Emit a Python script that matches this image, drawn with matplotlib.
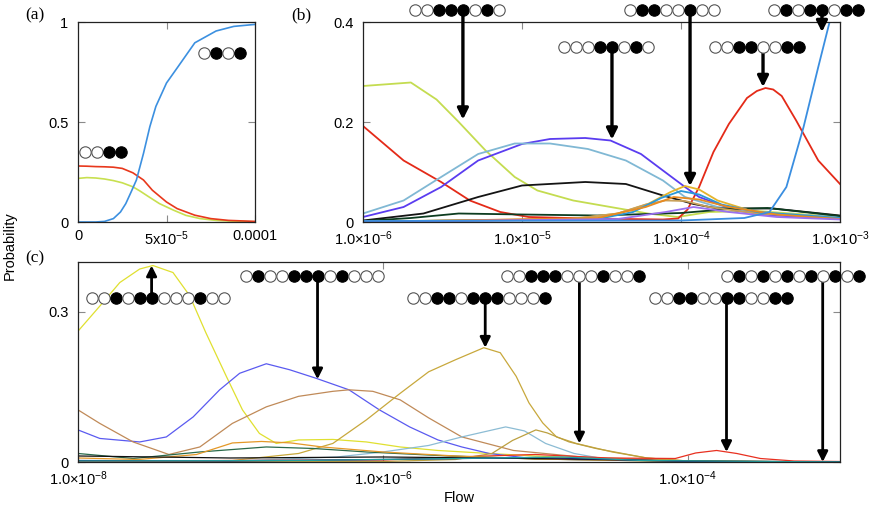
import matplotlib
matplotlib.use('Agg')
import matplotlib.pyplot as plt
from matplotlib.lines import Line2D
from matplotlib.ticker import FixedLocator, FixedFormatter, NullLocator

plt.rcParams['font.family'] = ['Liberation Sans', 'DejaVu Sans']
plt.rcParams['mathtext.fontset'] = 'custom'
plt.rcParams['mathtext.rm'] = 'Liberation Sans'
plt.rcParams['mathtext.it'] = 'Liberation Sans:italic'
plt.rcParams['mathtext.default'] = 'rm'

# ---------------- data: panel (a), linear flow ----------------
a_blue_x = [0, 1.0e-5, 1.5e-5, 2.0e-5, 2.4e-5, 2.7e-5, 3.0e-5, 3.3e-5, 3.7e-5, 4.06e-5, 4.4e-5, 5.0e-5,
            5.6e-5, 6.6e-5, 7.8e-5, 8.8e-5, 1.0e-4]
a_blue_y = [0, 0, 0.003, 0.017, 0.05, 0.092, 0.15, 0.21, 0.343, 0.477, 0.578, 0.695, 0.77, 0.896, 0.955,
            0.978, 0.988]
a_red_x = [0, 0.5e-5, 1e-5, 1.5e-5, 2e-5, 2.5e-5, 3.1e-5, 3.7e-5, 4.2e-5, 5e-5, 5.6e-5, 6.6e-5, 7.5e-5,
           8.5e-5, 1e-4]
a_red_y = [0.28, 0.279, 0.277, 0.276, 0.274, 0.268, 0.246, 0.21, 0.159, 0.1, 0.067, 0.034, 0.017, 0.008, 0.003]
a_yg_x = [0, 0.5e-5, 1e-5, 1.5e-5, 2e-5, 2.5e-5, 3.1e-5, 3.5e-5, 4.0e-5, 4.6e-5, 5.4e-5, 6.1e-5, 6.9e-5,
          7.8e-5, 9e-5, 1e-4]
a_yg_y = [0.218, 0.222, 0.22, 0.215, 0.207, 0.196, 0.176, 0.155, 0.126, 0.092, 0.059, 0.033, 0.017, 0.008,
          0.003, 0.001]
a_xticks = [0, 5e-5, 1e-4]
a_xticklabels = ['0', '5x10$^{-5}$', '0.0001']
a_yticks = [0, 0.5, 1]
a_yticklabels = ['0', '0.5', '1']
a_patterns = ['0101', '0011']

# ---------------- data: panel (b), log flow ----------------
b_series = {
    'yellowgreen': ([1e-6, 2e-6, 2.9e-6, 4e-6, 5.9e-6, 9e-6, 1.25e-5, 2.1e-5, 3.6e-5, 6.2e-5, 9.5e-5, 1.5e-4,
                     3e-4, 1e-3],
                    [0.272, 0.279, 0.245, 0.2, 0.143, 0.09, 0.063, 0.043, 0.03, 0.017, 0.01, 0.02, 0.022, 0.01]),
    'red': ([1e-6, 1.8e-6, 3.1e-6, 4.7e-6, 7.3e-6, 1.1e-5, 2.6e-5, 7.7e-5, 9.6e-5, 1.1e-4, 1.3e-4, 1.6e-4,
             2e-4, 2.6e-4, 3.0e-4, 3.4e-4, 3.8e-4, 4.3e-4, 5.3e-4, 7.3e-4, 1e-3],
            [0.192, 0.123, 0.08, 0.043, 0.02, 0.01, 0.007, 0.005, 0.007, 0.025, 0.07, 0.14, 0.196, 0.248,
             0.262, 0.268, 0.265, 0.252, 0.203, 0.123, 0.076]),
    'purple': ([1e-6, 1.8e-6, 3.1e-6, 5.3e-6, 1e-5, 1.5e-5, 2.5e-5, 3.6e-5, 5.6e-5, 7.7e-5, 1.06e-4, 1.3e-4,
                2.2e-4, 3.8e-4, 1e-3],
               [0.01, 0.03, 0.07, 0.123, 0.156, 0.166, 0.168, 0.163, 0.136, 0.103, 0.07, 0.05, 0.023, 0.013,
                0.007]),
    'lightblue': ([1e-6, 1.8e-6, 3.1e-6, 5.3e-6, 9e-6, 1.5e-5, 2.6e-5, 4.5e-5, 7.7e-5, 1.06e-4, 1.7e-4,
                   3.8e-4, 1e-3],
                  [0.017, 0.043, 0.09, 0.136, 0.157, 0.157, 0.146, 0.123, 0.083, 0.05, 0.03, 0.017, 0.01]),
    'black': ([1e-6, 2.4e-6, 5.3e-6, 1e-5, 2.5e-5, 4.5e-5, 7.7e-5, 1.2e-4, 1.7e-4, 3.8e-4, 1e-3],
              [0.003, 0.017, 0.05, 0.073, 0.08, 0.076, 0.053, 0.036, 0.027, 0.027, 0.013]),
    'darkgreen': ([1e-6, 2e-6, 4e-6, 1e-5, 3e-5, 1e-4, 2e-4, 3.5e-4, 1e-3],
                  [0.002, 0.008, 0.017, 0.015, 0.013, 0.018, 0.026, 0.028, 0.012]),
    'gold': ([1e-6, 2e-5, 4e-5, 6.2e-5, 8.6e-5, 1.06e-4, 1.3e-4, 1.7e-4, 2.9e-4, 1e-3],
             [0.001, 0.005, 0.017, 0.036, 0.06, 0.072, 0.065, 0.043, 0.02, 0.007]),
    'tan': ([1e-6, 2e-5, 4e-5, 6e-5, 8e-5, 1.06e-4, 1.5e-4, 3e-4, 1e-3],
            [0.001, 0.006, 0.017, 0.035, 0.043, 0.042, 0.03, 0.017, 0.008]),
    'cyan': ([1e-6, 3e-5, 5e-5, 7.5e-5, 1e-4, 1.3e-4, 1.8e-4, 3e-4, 1e-3],
             [0.001, 0.006, 0.02, 0.048, 0.062, 0.055, 0.035, 0.02, 0.008]),
    'orange': ([1e-6, 3e-5, 6e-5, 9e-5, 1.3e-4, 2e-4, 4e-4, 1e-3],
               [0.0, 0.008, 0.03, 0.05, 0.045, 0.03, 0.015, 0.006]),
    'violet': ([1e-6, 4e-5, 8e-5, 1.2e-4, 2e-4, 4e-4, 1e-3],
               [0.0, 0.006, 0.02, 0.03, 0.02, 0.01, 0.005]),
    'blue': ([1e-6, 1e-4, 2.5e-4, 3.6e-4, 4.6e-4, 5.9e-4, 7.3e-4, 8.6e-4, 9.5e-4],
             [0.002, 0.003, 0.008, 0.02, 0.07, 0.19, 0.31, 0.4, 0.46]),
}
b_colors = {'yellowgreen': '#c4dc50', 'red': '#e42a18', 'purple': '#5a3cf0', 'lightblue': '#80b8d4',
            'black': '#141414', 'darkgreen': '#0c3c20', 'gold': '#e4b42c', 'tan': '#c8a05a',
            'cyan': '#2a98d8', 'orange': '#e88a20', 'violet': '#9a70f0', 'blue': '#3a8ee0'}
b_xticks = [1e-6, 1e-5, 1e-4, 1e-3]
b_xticklabels = ['1.0×10$^{-6}$', '1.0×10$^{-5}$', '1.0×10$^{-4}$', '1.0×10$^{-3}$']
b_yticks = [0, 0.2, 0.4]
b_yticklabels = ['0', '0.2', '0.4']
b_patterns = ['00111010', '00011010', '01100100', '00110011', '01011011']
b_arrow_x = [4.25e-6, 3.68e-5, 1.14e-4, 3.28e-4, 7.7e-4]
b_arrow_y = [0.205, 0.165, 0.072, 0.27, 0.38]
b_anchor = [4, 4, 5, 4, 4]
b_row = [1.06, 0.875, 1.06, 0.875, 1.06]

# ---------------- data: panel (c), log flow ----------------
c_series = {
    'yellow': ([1e-8, 1.39e-8, 1.88e-8, 2.54e-8, 3.1e-8, 4.2e-8, 5.4e-8, 6.9e-8, 9.4e-8, 1.2e-7, 1.55e-7,
                2e-7, 2.8e-7, 4.7e-7, 7.8e-7, 1.3e-6, 2.3e-6, 5e-6, 1e-5, 3e-5, 1e-4, 1e-3],
               [0.261, 0.311, 0.358, 0.385, 0.392, 0.378, 0.332, 0.258, 0.171, 0.104, 0.057, 0.037, 0.044,
                0.045, 0.04, 0.03, 0.023, 0.017, 0.012, 0.005, 0.001, 0.0]),
    'blue': ([1e-8, 1.39e-8, 2.54e-8, 3.8e-8, 5.7e-8, 8.5e-8, 1.15e-7, 1.72e-7, 2.45e-7, 3.65e-7, 6e-7,
              9.5e-7, 1.5e-6, 2.3e-6, 3.3e-6, 5e-6, 1e-5, 1e-4, 1e-3],
             [0.064, 0.047, 0.04, 0.05, 0.09, 0.144, 0.177, 0.196, 0.184, 0.167, 0.144, 0.104, 0.07, 0.044,
              0.03, 0.017, 0.006, 0.002, 0.0]),
    'brown': ([1e-8, 1.39e-8, 2.3e-8, 3.95e-8, 6.3e-8, 1.03e-7, 1.72e-7, 2.8e-7, 4.7e-7, 6e-7, 8.6e-7,
               1.3e-6, 2.0e-6, 3.3e-6, 7.2e-6, 2e-5, 1e-4, 1e-3],
              [0.104, 0.077, 0.04, 0.015, 0.03, 0.077, 0.11, 0.131, 0.141, 0.144, 0.141, 0.124, 0.088, 0.05,
               0.023, 0.01, 0.002, 0.0]),
    'gold': ([1e-8, 1.03e-7, 2.8e-7, 4.7e-7, 7.8e-7, 1.3e-6, 2.0e-6, 3.0e-6, 4.6e-6, 5.9e-6, 7.5e-6, 9.1e-6,
              1.12e-5, 1.38e-5, 1.86e-5, 3.2e-5, 5.4e-5, 1e-4, 1e-3],
             [0.0, 0.003, 0.017, 0.037, 0.084, 0.137, 0.18, 0.204, 0.228, 0.218, 0.171, 0.118, 0.078, 0.05,
              0.037, 0.02, 0.008, 0.002, 0.0]),
    'lightblue': ([1e-8, 1e-7, 5e-7, 1e-6, 2e-6, 3.3e-6, 6.4e-6, 8.5e-6, 1.17e-5, 1.8e-5, 3e-5, 1e-4, 1e-3],
                  [0.0, 0.002, 0.01, 0.02, 0.033, 0.05, 0.07, 0.062, 0.037, 0.017, 0.005, 0.001, 0.0]),
    'olive': ([1e-8, 1e-6, 3e-6, 5.2e-6, 7.1e-6, 1.01e-5, 1.2e-5, 1.67e-5, 2.5e-5, 5.4e-5, 1e-4, 1e-3],
              [0.0, 0.001, 0.005, 0.017, 0.043, 0.064, 0.058, 0.04, 0.027, 0.008, 0.002, 0.0]),
    'red': ([1e-8, 1e-6, 3e-6, 1e-5, 3e-5, 8.3e-5, 1.13e-4, 1.55e-4, 2.1e-4, 3e-4, 5e-4, 1e-3],
            [0.002, 0.004, 0.01, 0.015, 0.008, 0.007, 0.018, 0.023, 0.017, 0.007, 0.002, 0.001]),
    'darkgreen': ([1e-8, 2.3e-8, 6.3e-8, 1.72e-7, 3.5e-7, 7.8e-7, 2.3e-6, 1e-5, 1e-4, 1e-3],
                  [0.017, 0.007, 0.02, 0.03, 0.027, 0.02, 0.013, 0.006, 0.001, 0.0]),
    'orange': ([1e-8, 2.5e-8, 6e-8, 1.03e-7, 1.6e-7, 2.5e-7, 4e-7, 1e-6, 3e-6, 1e-5, 1e-4, 1e-3],
               [0.008, 0.005, 0.015, 0.038, 0.041, 0.038, 0.03, 0.02, 0.012, 0.006, 0.001, 0.0]),
    'black': ([1e-8, 1e-7, 1e-6, 1e-5, 1e-4, 1e-3], [0.012, 0.008, 0.01, 0.007, 0.002, 0.0]),
    'navy': ([1e-8, 1e-7, 2e-6, 1e-5, 3e-5, 1e-4, 1e-3], [0.003, 0.002, 0.006, 0.009, 0.005, 0.001, 0.0]),
    'teal': ([1e-8, 3e-7, 3e-6, 1.5e-5, 5e-5, 1e-3], [0.002, 0.003, 0.007, 0.01, 0.003, 0.0]),
}
c_colors = {'yellow': '#e0e030', 'blue': '#5a5af0', 'brown': '#c08a58', 'gold': '#c8a83c',
            'lightblue': '#8cbcd4', 'olive': '#bca040', 'red': '#e83020', 'darkgreen': '#2a6a4a',
            'orange': '#e49828', 'black': '#101010', 'navy': '#20206a', 'teal': '#20a0a0'}
c_xticks = [1e-8, 1e-6, 1e-4]
c_xticklabels = ['1.0×10$^{-8}$', '1.0×10$^{-6}$', '1.0×10$^{-4}$']
c_yticks = [0, 0.3]
c_yticklabels = ['0', '0.3']
c_patterns = ['001011000100', '010011101000', '001101110001', '001110001001', '001100110011',
              '010101010101']
c_arrow_x = [3.04e-8, 3.73e-7, 4.7e-6, 1.95e-5, 1.8e-4, 7.7e-4]
c_arrow_y = [0.392, 0.165, 0.228, 0.037, 0.02, 0.0]
c_anchor = [5, 6, 6, 6, 6, 8]
c_row = [0.82, 0.93, 0.82, 0.93, 0.82, 0.93]

# ---------------- figure ----------------
W, H = 872, 520
fig = plt.figure(figsize=(W / 100, H / 100), dpi=100)
axA = fig.add_axes([78 / W, 1 - 222 / H, 177 / W, 200 / H])
axB = fig.add_axes([363 / W, 1 - 222 / H, 477 / W, 200 / H])
axC = fig.add_axes([78 / W, 1 - 462 / H, 762 / W, 200.5 / H])


def style(ax, xt, xl, yt, yl):
    ax.xaxis.set_major_locator(FixedLocator(xt))
    ax.xaxis.set_major_formatter(FixedFormatter(xl))
    ax.xaxis.set_minor_locator(NullLocator())
    ax.yaxis.set_major_locator(FixedLocator(yt))
    ax.yaxis.set_major_formatter(FixedFormatter(yl))
    ax.yaxis.set_minor_locator(NullLocator())
    ax.tick_params(direction='in', length=5, width=0.8, color='#8a8a8a', top=True, right=True,
                   labelsize=10.5, pad=5)
    ax.tick_params(axis='y', pad=7)
    for s in ax.spines.values():
        s.set_linewidth(0.9)
        s.set_color('#222222')


# panel (a)
axA.plot(a_yg_x, a_yg_y, color='#c8e050', lw=1.2)
axA.plot(a_red_x, a_red_y, color='#e8381c', lw=1.2)
axA.plot(a_blue_x, a_blue_y, color='#3c90e0', lw=1.2)
axA.set_xlim(0, 1e-4)
axA.set_ylim(0, 1)
style(axA, a_xticks, a_xticklabels, a_yticks, a_yticklabels)

# panel (b)
for name, (xs, ys) in b_series.items():
    axB.plot(xs, ys, color=b_colors[name], lw=1.3)
axB.set_xscale('log')
axB.set_xlim(1e-6, 1e-3)
axB.set_ylim(0, 0.4)
style(axB, b_xticks, b_xticklabels, b_yticks, b_yticklabels)

# panel (c)
for name, (xs, ys) in c_series.items():
    axC.plot(xs, ys, color=c_colors[name], lw=0.9)
axC.set_xscale('log')
axC.set_xlim(1e-8, 1e-3)
axC.set_ylim(0, 0.4)
style(axC, c_xticks, c_xticklabels, c_yticks, c_yticklabels)

STEP = 12.0  # pixel spacing of balls


def draw_row(pattern, x_px, y_px, anchor):
    for i, ch in enumerate(pattern):
        x = x_px + (i - anchor) * STEP
        filled = ch == '1'
        fig.add_artist(Line2D([x / W], [y_px / H], transform=fig.transFigure, marker='o', ms=8.2,
                              mfc='black' if filled else 'white', mec='black' if filled else '#555555',
                              mew=0.8, linestyle='none', zorder=5))


def arrows(ax, patterns, axs, ays, anchors, rows, lw, ms):
    fig.canvas.draw()
    for pat, ax_x, ax_y, anc, row in zip(patterns, axs, ays, anchors, rows):
        tipx, tipy = ax.transData.transform((ax_x, ax_y))
        rowy = ax.transAxes.transform((0, row))[1]
        ax.annotate('', xy=(ax_x, ax_y), xycoords='data', xytext=(tipx, rowy),
                    textcoords='figure pixels', annotation_clip=False,
                    arrowprops=dict(arrowstyle='-|>', color='black', lw=lw, mutation_scale=ms,
                                    shrinkA=0, shrinkB=0))
        draw_row(pat, tipx, rowy, anc)


arrows(axB, b_patterns, b_arrow_x, b_arrow_y, b_anchor, b_row, 2.4, 16)
arrows(axC, c_patterns, c_arrow_x, c_arrow_y, c_anchor, c_row, 2.0, 15)

# panel (a) labels of states (no arrows)
fig.canvas.draw()
pa1 = axA.transAxes.transform((0.71, 0.845))
draw_row(a_patterns[0], pa1[0], pa1[1], 0)
pa2 = axA.transAxes.transform((0.04, 0.35))
draw_row(a_patterns[1], pa2[0], pa2[1], 0)

# panel letters and axis titles
serif = ['Liberation Serif', 'DejaVu Serif']
fig.text(25 / W, 1 - 15 / H, '(a)', family=serif, fontsize=12.5, va='center', ha='left')
fig.text(291 / W, 1 - 15 / H, '(b)', family=serif, fontsize=12.5, va='center', ha='left')
fig.text(25 / W, 1 - 258 / H, '(c)', family=serif, fontsize=12.5, va='center', ha='left')
fig.text(10 / W, 1 - 246 / H, 'Probability', rotation=90, fontsize=10.5, va='center', ha='center')
fig.text(459 / W, 1 - 498 / H, 'Flow', fontsize=10.5, va='center', ha='center')

fig.savefig('out.png', dpi=100)
